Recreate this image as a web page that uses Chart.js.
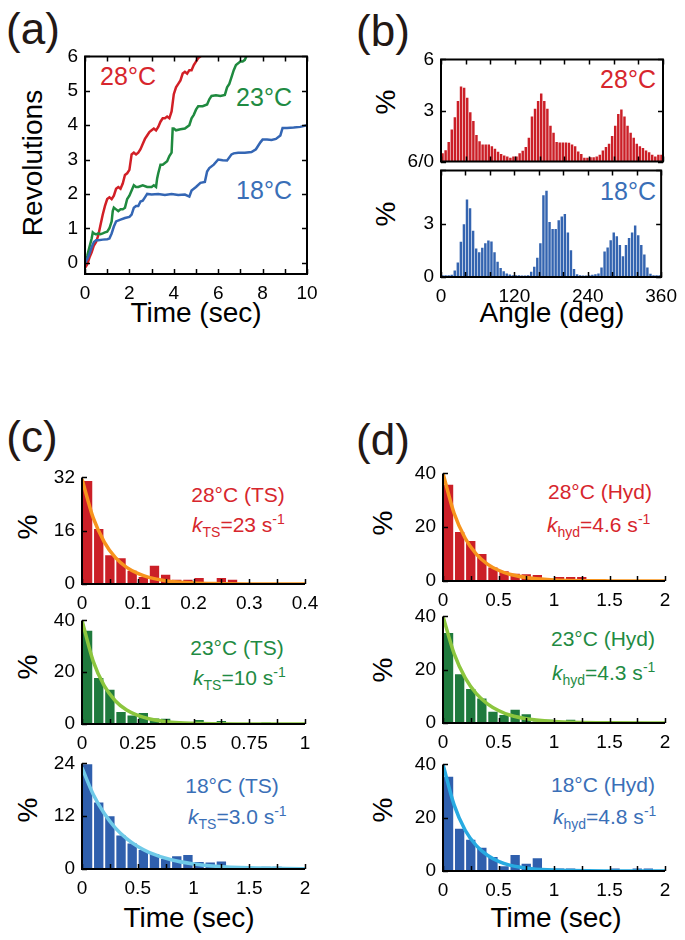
<!DOCTYPE html>
<html>
<head>
<meta charset="utf-8">
<script src="https://cdn.jsdelivr.net/npm/chart.js@4.4.1/dist/chart.umd.min.js"></script>
<style>
  body { margin: 0; background: #fff; width: 685px; height: 940px; position: relative; overflow: hidden;
         font-family: 'Liberation Sans', Arial, sans-serif; }
  canvas { position: absolute; }
  .t { position: absolute; white-space: nowrap; transform: translate(-50%, -50%); line-height: 1; }
  .k { position: absolute; white-space: nowrap; transform: translate(0, -50%); line-height: 1; font-size: 21px; }
  .k sub, .k sup { font-size: 14px; line-height: 0; }
  .rot { transform: translate(-50%, -50%) rotate(-90deg); }
  .lab { font-size: 44px; color: #231815; }
  .ax { font-size: 28px; color: #000; }
  .red { color: #d7262d; } .green { color: #1f8b43; } .blue { color: #3a6fb7; }
</style>
</head>
<body>
<div class="t lab" style="left:33px;top:29px">(a)</div>
<div class="t lab" style="left:383px;top:31px">(b)</div>
<div class="t lab" style="left:32px;top:437px">(c)</div>
<div class="t lab" style="left:383px;top:440px">(d)</div>

<div class="t ax rot" style="left:33px;top:163px">Revolutions</div>
<div class="t ax" style="left:196px;top:313px">Time (sec)</div>
<div class="t ax" style="left:552px;top:313px">Angle (deg)</div>
<div class="t ax rot" style="left:386px;top:102px">%</div>
<div class="t ax rot" style="left:386px;top:214px">%</div>
<div class="t ax rot" style="left:28px;top:527px">%</div>
<div class="t ax rot" style="left:28px;top:667px">%</div>
<div class="t ax rot" style="left:28px;top:810px">%</div>
<div class="t ax rot" style="left:383px;top:523px">%</div>
<div class="t ax rot" style="left:383px;top:670px">%</div>
<div class="t ax rot" style="left:383px;top:810px">%</div>
<div class="t ax" style="left:189px;top:918px">Time (sec)</div>
<div class="t ax" style="left:556px;top:918px">Time (sec)</div>

<div class="t red" style="left:128px;top:76px;font-size:25px">28°C</div>
<div class="t green" style="left:264px;top:97px;font-size:25px">23°C</div>
<div class="t blue" style="left:264px;top:190px;font-size:25px">18°C</div>
<div class="t red" style="left:628px;top:79px;font-size:25px">28°C</div>
<div class="t blue" style="left:628px;top:191px;font-size:25px">18°C</div>

<div class="t red" style="left:238px;top:494px;font-size:21px">28°C (TS)</div>
<div class="k red" style="left:192px;top:524px"><i>k</i><sub>TS</sub>=23 s<sup>-1</sup></div>
<div class="t green" style="left:237px;top:647px;font-size:21px">23°C (TS)</div>
<div class="k green" style="left:193px;top:677px"><i>k</i><sub>TS</sub>=10 s<sup>-1</sup></div>
<div class="t blue" style="left:232px;top:785px;font-size:21px">18°C (TS)</div>
<div class="k blue" style="left:188px;top:816px"><i>k</i><sub>TS</sub>=3.0 s<sup>-1</sup></div>

<div class="t red" style="left:600px;top:491px;font-size:21px">28°C (Hyd)</div>
<div class="k red" style="left:547px;top:524px"><i>k</i><sub>hyd</sub>=4.6 s<sup>-1</sup></div>
<div class="t green" style="left:603px;top:638px;font-size:21px">23°C (Hyd)</div>
<div class="k green" style="left:552px;top:672px"><i>k</i><sub>hyd</sub>=4.3 s<sup>-1</sup></div>
<div class="t blue" style="left:603px;top:784px;font-size:21px">18°C (Hyd)</div>
<div class="k blue" style="left:553px;top:816px"><i>k</i><sub>hyd</sub>=4.8 s<sup>-1</sup></div>

<script>
// (a) rotation traces: time (s) and revolutions
const timeRed = [0, 0.1, 0.2, 0.3, 0.4, 0.5, 0.6, 0.7, 0.8, 0.9, 1.0, 1.1, 1.2, 1.3, 1.4, 1.5, 1.6, 1.7, 1.8, 1.9, 2.0, 2.1, 2.2, 2.3, 2.4, 2.5, 2.6, 2.7, 2.8, 2.9, 3.0, 3.1, 3.2, 3.3, 3.4, 3.5, 3.6, 3.7, 3.8, 3.9, 4.0, 4.1, 4.2, 4.3, 4.4, 4.5, 4.6, 4.7, 4.8, 4.9, 5.0, 5.1, 5.2, 5.3];
const revRed = [-0.15, -0.05, 0.15, 0.3, 0.5, 0.6, 0.8, 1.1, 1.4, 1.65, 1.85, 1.9, 1.85, 1.95, 2.15, 2.2, 2.15, 2.3, 2.55, 2.6, 2.7, 3.15, 3.2, 3.15, 3.2, 3.3, 3.45, 3.6, 3.7, 3.8, 3.85, 3.9, 3.85, 3.95, 4.1, 4.2, 4.2, 4.25, 4.2, 4.4, 4.9, 5.1, 5.2, 5.3, 5.5, 5.55, 5.5, 5.6, 5.6, 5.75, 5.85, 5.95, 6.0, 6.1];
const timeGreen = [0, 0.1, 0.2, 0.3, 0.35, 0.4, 0.5, 0.6, 0.7, 0.8, 0.9, 1.0, 1.1, 1.2, 1.25, 1.3, 1.4, 1.5, 1.6, 1.7, 1.8, 1.9, 2.0, 2.1, 2.2, 2.3, 2.4, 2.6, 2.8, 3.0, 3.1, 3.2, 3.25, 3.3, 3.4, 3.5, 3.6, 3.7, 3.8, 3.9, 3.95, 4.0, 4.1, 4.3, 4.5, 4.7, 4.8, 4.9, 5.0, 5.1, 5.3, 5.5, 5.6, 5.7, 5.9, 6.1, 6.3, 6.4, 6.5, 6.6, 6.7, 6.8, 6.9, 7.0, 7.1, 7.2, 7.3];
const revGreen = [0, 0.2, 0.45, 0.7, 0.88, 0.85, 0.82, 0.85, 0.83, 0.85, 0.88, 0.9, 1.0, 1.2, 1.5, 1.6, 1.55, 1.5, 1.55, 1.55, 1.6, 1.85, 1.95, 2.1, 2.25, 2.2, 2.2, 2.25, 2.2, 2.2, 2.25, 2.2, 2.45, 2.6, 2.85, 2.85, 2.9, 2.95, 3.1, 3.2, 3.9, 3.9, 3.85, 3.88, 3.9, 4.0, 4.2, 4.3, 4.45, 4.55, 4.55, 4.6, 4.75, 4.85, 4.87, 4.85, 4.88, 5.1, 5.2, 5.4, 5.6, 5.75, 5.8, 5.85, 5.85, 5.9, 6.05];
const timeBlue = [0, 0.1, 0.2, 0.3, 0.4, 0.5, 0.6, 0.8, 1.0, 1.1, 1.2, 1.3, 1.4, 1.6, 1.8, 2.0, 2.1, 2.2, 2.3, 2.4, 2.5, 2.6, 2.7, 2.8, 3.0, 3.3, 3.6, 3.9, 4.2, 4.5, 4.7, 4.8, 4.9, 5.0, 5.2, 5.4, 5.5, 5.6, 5.8, 6.0, 6.2, 6.4, 6.6, 6.7, 6.9, 7.2, 7.5, 7.7, 7.9, 8.0, 8.2, 8.4, 8.6, 8.8, 8.9, 9.1, 9.4, 9.7, 10];
const revBlue = [0, 0.1, 0.25, 0.45, 0.6, 0.65, 0.65, 0.67, 0.68, 0.7, 0.85, 1.05, 1.2, 1.25, 1.3, 1.33, 1.4, 1.6, 1.65, 1.65, 1.78, 1.8, 1.9, 2.0, 1.98, 2.0, 1.97, 2.0, 1.97, 1.98, 1.92, 2.1, 2.15, 2.2, 2.32, 2.35, 2.65, 2.75, 2.85, 3.0, 2.98, 2.97, 3.15, 3.18, 3.2, 3.2, 3.22, 3.3, 3.5, 3.58, 3.58, 3.57, 3.6, 3.7, 3.92, 3.92, 3.93, 3.95, 4.0];

// (b) angle histograms, 5 deg bins from 0 to 360 (%)
const angle28 = [0.49, 0.67, 1.15, 1.88, 2.6, 3.56, 4.41, 4.33, 3.75, 2.9, 2.38, 1.56, 1.2, 1.0, 1.0, 1.0, 0.9, 0.76, 0.58, 0.45, 0.36, 0.3, 0.22, 0.3, 0.3, 0.49, 0.63, 0.85, 1.4, 2.65, 3.1, 3.56, 4.0, 3.56, 3.1, 2.1, 1.7, 1.15, 1.12, 1.12, 1.12, 1.1, 1.0, 0.9, 0.6, 0.45, 0.22, 0.22, 0.25, 0.25, 0.3, 0.4, 0.65, 0.85, 1.05, 1.5, 2.1, 2.8, 3.06, 2.65, 2.1, 1.7, 1.4, 1.05, 0.9, 0.8, 0.65, 0.55, 0.4, 0.3, 0.4, 0.4];
const angle18 = [0.1, 0.1, 0.1, 0.12, 0.36, 0.81, 1.98, 2.97, 4.36, 3.87, 2.6, 1.6, 1.4, 1.65, 1.9, 2.05, 2.0, 1.4, 0.86, 0.5, 0.32, 0.2, 0.14, 0.1, 0.1, 0.1, 0.08, 0.08, 0.1, 0.3, 0.57, 1.08, 1.9, 4.6, 4.86, 3.1, 2.7, 2.7, 3.2, 3.4, 3.55, 2.5, 1.5, 0.45, 0.15, 0.1, 0.08, 0.08, 0.1, 0.12, 0.15, 0.2, 0.54, 1.44, 1.66, 2.07, 2.5, 2.3, 1.8, 1.17, 1.8, 2.2, 2.5, 2.9, 2.35, 1.8, 1.27, 0.54, 0.18, 0.1, 0.1, 0.1];
const angleBinWidth = 5;

// (c) TS dwell histograms (%) and fitted decays
const ts28 = [30.9, 16.5, 8.6, 7.7, 4.0, 2.1, 5.5, 2.8, 1.3, 1.3, 1.8, 0.5, 1.8, 1.3, 0, 0, 0, 0, 0, 0];
const ts23 = [36, 17.8, 13.2, 4.6, 3.3, 4.2, 2.1, 2.0, 0.9, 0.3, 1.5, 0.7, 1.2, 0.4, 0.2, 0, 0.6, 0.4, 0, 0];
const ts18 = [23.8, 15.1, 12.0, 7.6, 5.8, 4.3, 3.4, 2.3, 2.9, 3.2, 1.6, 1.5, 1.7, 0.7, 0.7, 0.4, 0.5, 0.5, 0.2, 0.3];
const fitTimeTs28 = [0, 0.02, 0.04, 0.06, 0.08, 0.1, 0.12, 0.15, 0.2, 0.25, 0.3, 0.4];
const fitTs28 = [31.5, 19.9, 12.6, 7.9, 5.0, 3.2, 2.0, 1.0, 0.3, 0.1, 0.03, 0];
const fitTimeTs23 = [0, 0.05, 0.1, 0.15, 0.2, 0.25, 0.3, 0.4, 0.5, 0.7, 1];
const fitTs23 = [40, 24.3, 14.7, 8.9, 5.4, 3.3, 2.0, 0.7, 0.27, 0.04, 0];
const fitTimeTs18 = [0, 0.1, 0.2, 0.3, 0.4, 0.5, 0.6, 0.8, 1.0, 1.2, 1.5, 2];
const fitTs18 = [23, 17, 12.6, 9.3, 6.9, 5.1, 3.8, 2.1, 1.15, 0.63, 0.26, 0.06];

// (d) hydrolysis dwell histograms (%) and fitted decays
const hyd28 = [35.8, 18.2, 14.9, 10.0, 5.0, 3.6, 2.7, 2.5, 2.2, 0.5, 1.5, 1.5, 1.5, 0, 0, 0, 0, 0, 0, 0];
const hyd23 = [33.8, 18.3, 12.8, 9.2, 4.2, 3.0, 5.0, 3.3, 0.6, 1.2, 0.3, 1.2, 0.3, 0, 0, 0, 0, 0, 0, 0];
const hyd18 = [35.4, 15.9, 11.7, 8.7, 5.3, 1.8, 6.0, 2.7, 4.8, 0.7, 0.9, 0.9, 0.4, 0.4, 0.4, 0.9, 0.3, 0.9, 0.9, 0.3];
const fitTimeHyd = [0, 0.1, 0.2, 0.3, 0.4, 0.5, 0.6, 0.8, 1.0, 1.5, 2];
const fitHyd28 = [40, 25.2, 15.9, 10, 6.3, 4.0, 2.5, 1.0, 0.4, 0.04, 0];
const fitHyd23 = [40, 26, 16.9, 11, 7.2, 4.7, 3.0, 1.3, 0.54, 0.06, 0];
const fitHyd18 = [40, 24.8, 15.3, 9.5, 5.9, 3.6, 2.2, 0.86, 0.33, 0.03, 0];

Chart.defaults.font.family = "'Liberation Sans', Arial, sans-serif";
Chart.defaults.font.size = 19;
Chart.defaults.color = '#000';
Chart.defaults.animation = false;

const pts = (xs, ys) => xs.map((x, i) => ({ x, y: ys[i] }));
const binned = (vals, w) => vals.map((y, i) => ({ x: (i + 0.5) * w, y }));

// inward tick marks + frame / L-axes
const inTicks = {
  id: 'inTicks',
  afterDraw(chart, args, o) {
    const { ctx, chartArea: a, scales: { x, y } } = chart;
    ctx.save();
    ctx.strokeStyle = '#000';
    ctx.lineWidth = 1.5;
    ctx.beginPath();
    x.ticks.forEach(t => {
      const px = Math.round(x.getPixelForValue(t.value)) + 0.5;
      ctx.moveTo(px, a.bottom); ctx.lineTo(px, a.bottom - 5);
      if (o.frame) { ctx.moveTo(px, a.top); ctx.lineTo(px, a.top + 5); }
    });
    y.ticks.forEach(t => {
      const py = Math.round(y.getPixelForValue(t.value)) + 0.5;
      ctx.moveTo(a.left, py); ctx.lineTo(a.left + 5, py);
      if (o.frame) { ctx.moveTo(a.right, py); ctx.lineTo(a.right - 5, py); }
    });
    ctx.stroke();
    ctx.lineWidth = 2;
    ctx.beginPath();
    if (o.frame) {
      ctx.rect(a.left, a.top, a.width, a.height);
    } else {
      ctx.moveTo(a.left, a.top); ctx.lineTo(a.left, a.bottom); ctx.lineTo(a.right, a.bottom);
    }
    ctx.stroke();
    ctx.restore();
  }
};

function panel(p) {
  const LW = 48, BH = 30, PT = 14, PR = 22;
  const cv = document.createElement('canvas');
  const w = LW + p.w + PR, h = PT + p.h + (p.bh ?? BH);
  cv.width = w; cv.height = h;
  cv.style.left = (p.x - LW) + 'px';
  cv.style.top = (p.y - PT) + 'px';
  cv.style.width = w + 'px'; cv.style.height = h + 'px';
  document.body.appendChild(cv);
  return new Chart(cv, {
    type: p.type || 'bar',
    data: { datasets: p.datasets },
    options: {
      responsive: false,
      devicePixelRatio: 1,
      layout: { padding: { top: PT, right: PR, left: 0, bottom: 0 } },
      plugins: { legend: { display: false }, tooltip: { enabled: false }, inTicks: { frame: p.frame } },
      scales: {
        x: {
          type: 'linear', min: p.xMin, max: p.xMax, offset: false,
          grid: { display: false, drawTicks: false, offset: false },
          border: { display: false },
          afterFit: s => { s.height = p.bh ?? BH; },
          ticks: { stepSize: p.xStep, autoSkip: false, maxRotation: 0, padding: 8, includeBounds: false,
                   callback: p.xLabel }
        },
        y: {
          type: 'linear', min: p.yMin, max: p.yMax,
          grid: { display: false, drawTicks: false },
          border: { display: false },
          afterFit: s => { s.width = LW; },
          afterBuildTicks: s => { s.ticks = s.ticks.filter(t => Math.abs(t.value / p.yStep - Math.round(t.value / p.yStep)) < 1e-6); },
          ticks: { stepSize: p.yStep, padding: 7, includeBounds: false, callback: p.yLabel || (v => String(v)) }
        }
      }
    },
    plugins: [inTicks]
  });
}

const lineDs = (xs, ys, color) => ({ type: 'line', data: pts(xs, ys), borderColor: color, borderWidth: 2.5,
  pointRadius: 0, tension: 0, fill: false });
const fitDs = (xs, ys, color) => ({ type: 'line', data: pts(xs, ys), borderColor: color, borderWidth: 3.5,
  pointRadius: 0, cubicInterpolationMode: 'monotone', fill: false, order: 0 });
const barDs = (vals, w, color, pct) => ({ type: 'bar', data: binned(vals, w), backgroundColor: color,
  borderWidth: 0, barPercentage: pct, categoryPercentage: 1, order: 1 });

// (a)
panel({ type: 'line', x: 85, y: 52, w: 222, h: 222, frame: true,
  xMin: 0, xMax: 10, xStep: 1, xLabel: v => (v % 2 === 0 ? String(v) : ''),
  yMin: -0.33, yMax: 6, yStep: 1,
  datasets: [lineDs(timeBlue, revBlue, '#3466b4'), lineDs(timeGreen, revGreen, '#1f8a3f'), lineDs(timeRed, revRed, '#d21f26')] });

// (b)
panel({ x: 441, y: 55, w: 222, h: 111, frame: true, bh: 14,
  xMin: 0, xMax: 360, xStep: 40, xLabel: () => '',
  yMin: 0, yMax: 6, yStep: 3, yLabel: v => (v === 0 ? '6/0' : String(v)),
  datasets: [barDs(angle28, angleBinWidth, '#cb1f27', 0.8)] });
panel({ x: 441, y: 166, w: 222, h: 111, frame: true,
  xMin: 0, xMax: 360, xStep: 40, xLabel: v => (v % 120 === 0 ? String(v) : ''),
  yMin: 0, yMax: 6, yStep: 3, yLabel: v => (v === 6 ? '' : String(v)),
  datasets: [barDs(angle18, angleBinWidth, '#3464b0', 0.8)] });

// (c)
panel({ x: 82, y: 473, w: 223, h: 111,
  xMin: 0, xMax: 0.4, xStep: 0.05, xLabel: v => (Math.round(v * 100) % 10 === 0 ? String(v) : ''),
  yMin: 0, yMax: 32, yStep: 16,
  datasets: [fitDs(fitTimeTs28, fitTs28, '#f7941d'), barDs(ts28, 0.02, '#cb1f27', 0.84)] });
panel({ x: 82, y: 616, w: 223, h: 108,
  xMin: 0, xMax: 1, xStep: 0.125, xLabel: v => (Math.round(v * 1000) % 250 === 0 ? String(v) : ''),
  yMin: 0, yMax: 40, yStep: 20,
  datasets: [fitDs(fitTimeTs23, fitTs23, '#8cc63e'), barDs(ts23, 0.05, '#1f7a3d', 0.84)] });
panel({ x: 82, y: 759, w: 223, h: 110,
  xMin: 0, xMax: 2, xStep: 0.25, xLabel: v => (Math.round(v * 100) % 50 === 0 ? String(v) : ''),
  yMin: 0, yMax: 24, yStep: 12,
  datasets: [fitDs(fitTimeTs18, fitTs18, '#6fcae8'), barDs(ts18, 0.1, '#2f5fad', 0.84)] });

// (d)
const halfLabel = v => (Math.round(v * 100) % 50 === 0 ? String(v) : '');
panel({ x: 443, y: 469, w: 222, h: 112,
  xMin: 0, xMax: 2, xStep: 0.25, xLabel: halfLabel, yMin: 0, yMax: 40, yStep: 20,
  datasets: [fitDs(fitTimeHyd, fitHyd28, '#f7941d'), barDs(hyd28, 0.1, '#cb1f27', 0.84)] });
panel({ x: 443, y: 612, w: 222, h: 111,
  xMin: 0, xMax: 2, xStep: 0.25, xLabel: halfLabel, yMin: 0, yMax: 40, yStep: 20,
  datasets: [fitDs(fitTimeHyd, fitHyd23, '#8cc63e'), barDs(hyd23, 0.1, '#1f7a3d', 0.84)] });
panel({ x: 443, y: 760, w: 222, h: 111,
  xMin: 0, xMax: 2, xStep: 0.25, xLabel: halfLabel, yMin: 0, yMax: 40, yStep: 20,
  datasets: [fitDs(fitTimeHyd, fitHyd18, '#27aae1'), barDs(hyd18, 0.1, '#2f5fad', 0.84)] });
</script>
</body>
</html>
